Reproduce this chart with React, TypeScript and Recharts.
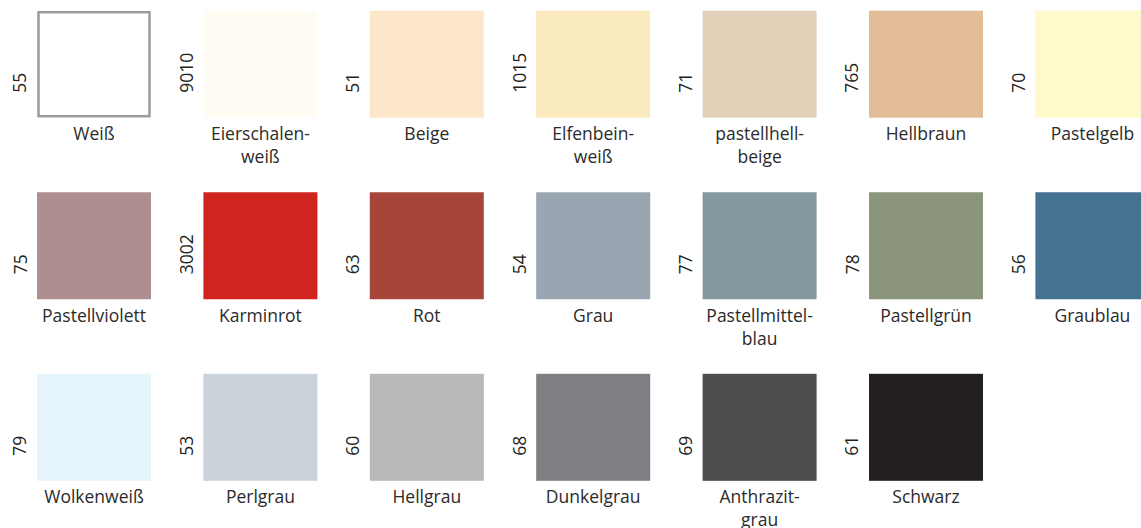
import React from "react";
import { ScatterChart, Scatter, XAxis, YAxis } from "recharts";

const codes = ["55", "9010", "51", "1015", "71", "765", "70", "75", "3002", "63", "54", "77", "78", "56", "79", "53", "60", "68", "69", "61"];
const names = [
  "Weiß", "Eierschalen-\nweiß", "Beige", "Elfenbein-\nweiß", "pastellhell-\nbeige", "Hellbraun", "Pastelgelb",
  "Pastellviolett", "Karminrot", "Rot", "Grau", "Pastellmittel-\nblau", "Pastellgrün", "Graublau",
  "Wolkenweiß", "Perlgrau", "Hellgrau", "Dunkelgrau", "Anthrazit-\ngrau", "Schwarz",
];
const colors = [
  "#ffffff", "#fffdf3", "#fde7ca", "#fbe9c0", "#e2d0b9", "#e2bd98", "#fff9cb",
  "#ae8e8f", "#d0251f", "#a6463a", "#99a6b1", "#84999f", "#8b957a", "#457290",
  "#e6f4fb", "#cbd2d9", "#b8b9bb", "#7e7f83", "#4d4d50", "#242022",
];
const columnsPerRow = 7;

const data = codes.map((code, i) => ({
  code,
  name: names[i],
  color: colors[i],
  col: i % columnsPerRow,
  row: Math.floor(i / columnsPerRow),
}));

const FONT = "'Open Sans', sans-serif";

const Swatch = (props: any) => {
  const { cx, cy, payload } = props;
  if (cx == null || cy == null) return null;
  const w = 114;
  const h = 107;
  const left = cx - w / 2;
  const top = cy - h / 2;
  const bottom = top + h;
  const outlined = payload.color.toLowerCase() === "#ffffff";
  const lines: string[] = payload.name.split("\n");
  const codeX = left - 10.5;
  const codeY = bottom - 25;
  return (
    <g>
      {outlined ? (
        <rect x={left + 1.5} y={top + 1.5} width={w - 3} height={h - 3} fill="#ffffff" stroke="#9b9b9b" strokeWidth={2.5} />
      ) : (
        <rect x={left} y={top} width={w} height={h} fill={payload.color} />
      )}
      <text
        x={codeX}
        y={codeY}
        transform={`rotate(-90, ${codeX}, ${codeY})`}
        textAnchor="start"
        fontFamily={FONT}
        fontSize={17.5}
        fill="#231f20"
      >
        {payload.code}
      </text>
      {lines.map((ln, k) => (
        <text
          key={k}
          x={cx}
          y={bottom + 22.5 + k * 23}
          textAnchor="middle"
          fontFamily={FONT}
          fontSize={17.5}
          fill="#2b2b2b"
        >
          {ln}
        </text>
      ))}
    </g>
  );
};

export default function App() {
  return (
    <div style={{ position: "absolute", left: 0, top: 0, width: 1141, height: 528, background: "#ffffff" }}>
      <ScatterChart width={1141} height={528} margin={{ left: 94, right: 48.6, top: 64.2, bottom: 100.7 }}>
        <XAxis dataKey="col" type="number" domain={[0, 6]} hide />
        <YAxis dataKey="row" type="number" domain={[0, 2]} reversed hide />
        <Scatter data={data} shape={<Swatch />} isAnimationActive={false} />
      </ScatterChart>
    </div>
  );
}
